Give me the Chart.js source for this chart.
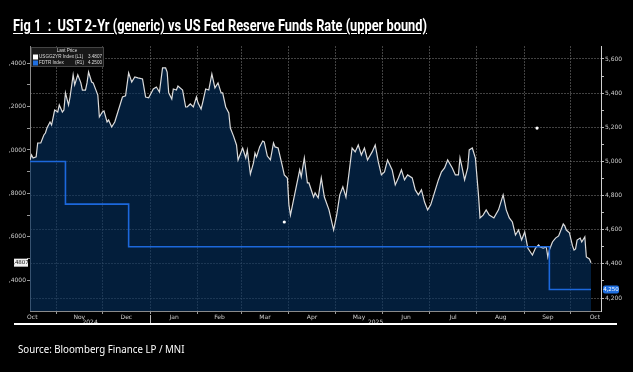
<!DOCTYPE html>
<html>
<head>
<meta charset="utf-8">
<script src="https://cdn.jsdelivr.net/npm/chart.js@4.4.1/dist/chart.umd.min.js"></script>
<style>
html,body{margin:0;padding:0;background:#000;}
body{width:633px;height:372px;position:relative;overflow:hidden;}
#chart{position:absolute;left:0;top:0;}
#title{position:absolute;left:13px;top:16px;color:#fff;font-family:"Roboto","Liberation Sans",sans-serif;font-weight:bold;font-size:16px;text-decoration:underline;text-underline-offset:2px;white-space:nowrap;transform-origin:0 0;}
#rule{position:absolute;left:14px;top:323px;width:603px;height:2px;background:#fff;}
#source{position:absolute;left:18px;top:342px;color:#fff;font-family:"Noto Sans",sans-serif;font-size:10px;white-space:nowrap;transform-origin:0 0;}
</style>
</head>
<body>
<canvas id="chart" width="633" height="372"></canvas>
<div id="title">Fig 1&nbsp; :&nbsp; UST 2-Yr (generic) vs US Fed Reserve Funds Rate (upper bound)</div>
<div id="rule"></div>
<div id="source">Source: Bloomberg Finance LP / MNI</div>
<script>
//=============================
// DATA  (days counted from 2024-10-01)
//=============================

const twoYrDays = [14,15,16,18,19,21,23,24,25,27,28,30,32,33,35,36,37,39,40,42,43,45,47,48,50,51,52,54,55,58,59,61,62,64,65,67,69,71,74,76,78,80,82,84,87,89,91,93,94,96,98,100,102,103,104,106,107,109,110,113,115,116,118,120,122,123,125,126,128,130,132,134,136,138,139,141,143,144,146,148,149,151,152,154,155,157,159,160,161,163,165,166,168,169,170,172,173,175,178,179,181,182,183,185,187,189,190,192,194,195,198,199,201,203,205,208,211,213,215,217,219,221,223,225,227,229,231,233,236,238,240,242,244,246,249,251,253,255,257,259,262,264,266,268,270,272,274,276,279,281,283,285,288,290,292,293,294,296,298,299,301,303,305,306,308,310,312,315,318,319,321,323,325,327,329,331,333,335,337,340,342,344,345,347,349,350,351,353,355,357,358,360,361,362,364,366,367,368,369,371,372,374,375,377,378];

const twoYrVals = [3.954,3.977,3.963,3.968,4.032,4.032,4.069,4.078,4.101,4.129,4.115,4.184,4.175,4.207,4.175,4.184,4.263,4.207,4.244,4.346,4.300,4.346,4.309,4.276,4.276,4.309,4.359,4.313,4.309,4.253,4.152,4.175,4.180,4.129,4.138,4.106,4.129,4.175,4.244,4.249,4.355,4.313,4.336,4.332,4.327,4.244,4.240,4.267,4.281,4.290,4.267,4.378,4.378,4.359,4.263,4.235,4.281,4.276,4.295,4.276,4.198,4.198,4.212,4.198,4.244,4.217,4.189,4.217,4.281,4.276,4.350,4.286,4.309,4.263,4.263,4.198,4.171,4.101,4.065,4.023,3.954,3.991,4.009,3.963,4.000,3.889,3.940,3.986,3.968,4.014,4.041,4.037,3.972,3.963,3.954,4.032,4.014,4.009,3.917,3.885,3.871,3.747,3.700,3.770,3.839,3.908,3.876,3.963,3.848,3.848,3.783,3.802,3.779,3.871,3.783,3.724,3.631,3.700,3.793,3.830,3.783,3.894,4.009,3.991,4.023,3.977,4.009,3.954,3.991,4.023,3.945,3.885,3.899,3.954,3.908,3.839,3.871,3.908,3.862,3.885,3.871,3.816,3.793,3.816,3.760,3.724,3.747,3.793,3.862,3.899,3.917,3.954,3.917,3.885,3.885,3.963,3.931,3.862,3.917,4.000,4.009,3.963,3.793,3.687,3.700,3.724,3.700,3.687,3.724,3.747,3.793,3.724,3.687,3.668,3.608,3.631,3.585,3.622,3.548,3.516,3.548,3.562,3.553,3.548,3.553,3.507,3.539,3.576,3.594,3.604,3.622,3.659,3.650,3.631,3.618,3.558,3.539,3.544,3.585,3.594,3.576,3.599,3.507,3.498,3.4807];

const fedDays = [14,37,78,351,378];
const fedVals = [5.00,4.75,4.50,4.25,4.25];

const dotDays = [179,343];
const dotVals = [3.668,4.101];

const monthStarts = [0,31,61,92,123,151,182,212,243,273,304,335,365,396];
const monthNames = ["Oct","Nov","Dec","Jan","Feb","Mar","Apr","May","Jun","Jul","Aug","Sep","Oct"];
const yearStarts = [0,92];
const yearNames = ["2024","2025"];

const leftTicks = [3.4,3.6,3.8,4.0,4.2,4.4];
const rightTicks = [4.2,4.4,4.6,4.8,5.0,5.2,5.4,5.6];

const legendNames = ["USGG2YR Index","FDTR Index"];
const legendAxes = ["(L1)","(R1)"];

//=============================
// TEXT WIDTHS
//=============================

function fitWidth(id, target){
    const el = document.getElementById(id);
    el.style.transform = "scaleX(" + (target/el.offsetWidth) + ")";
}
fitWidth("title", 414);
fitWidth("source", 167);

//=============================
// HELPERS
//=============================

const GRID = "rgba(120,120,120,0.55)";
const TXT = "#cfcfcf";

function withMinors(list){
    const out = [];
    list.forEach((v,i)=>{
        out.push({value:v, major:true});
        if(i < list.length-1) out.push({value:(v+list[i+1])/2, major:false});
    });
    return out;
}

function leftLabel(v){
    return "," + v.toFixed(4).split(".")[1];
}

function rightLabel(v){
    return v.toFixed(3).replace(".",",");
}

//=============================
// OVERLAY (years, tags, legend)
//=============================

const overlay = {
    id:"overlay",
    afterDraw(chart){
        const {ctx, chartArea, scales} = chart;
        const x = scales.x, yl = scales.yL, yr = scales.yR;
        ctx.save();

        // years
        ctx.font = '6px "DejaVu Sans"';
        ctx.fillStyle = TXT;
        ctx.textAlign = "center";
        ctx.textBaseline = "middle";
        yearStarts.forEach((d,i)=>{
            const a = Math.max(d, x.min);
            const b = Math.min(i < yearStarts.length-1 ? yearStarts[i+1] : x.max, x.max);
            ctx.fillText(yearNames[i], (x.getPixelForValue(a)+x.getPixelForValue(b))/2, chartArea.bottom+11);
            if(i > 0){
                const px = Math.round(x.getPixelForValue(d))+0.5;
                ctx.strokeStyle = "#bbb";
                ctx.lineWidth = 1;
                ctx.beginPath();
                ctx.moveTo(px, chartArea.bottom+4);
                ctx.lineTo(px, chartArea.bottom+13);
                ctx.stroke();
            }
        });

        // last value tag, left
        const lv = twoYrVals[twoYrVals.length-1];
        const ly = yl.getPixelForValue(lv);
        ctx.fillStyle = "#f2f2f2";
        ctx.fillRect(14, ly-4, 14, 8);
        ctx.fillStyle = "#111";
        ctx.font = '5.5px "DejaVu Sans"';
        ctx.textAlign = "center";
        ctx.fillText(leftLabel(lv), 21, ly);

        // last value tag, right
        const rv = fedVals[fedVals.length-1];
        const ry = yr.getPixelForValue(rv);
        ctx.fillStyle = "#1f6fe0";
        ctx.beginPath();
        ctx.roundRect(chartArea.right+2, ry-4, 16, 8, 2);
        ctx.fill();
        ctx.fillStyle = "#fff";
        ctx.fillText(rightLabel(rv), chartArea.right+10, ry);

        // legend box
        const bx = chartArea.left+1, by = chartArea.top+1;
        ctx.fillStyle = "#181818";
        ctx.fillRect(bx, by, 72, 19);
        ctx.strokeStyle = "#444";
        ctx.strokeRect(bx+0.5, by+0.5, 72, 19);
        ctx.font = '4.6px "Liberation Sans"';
        ctx.fillStyle = "#ddd";
        ctx.textAlign = "center";
        ctx.fillText("Last Price", bx+36, by+4);
        const rows = [
            [legendNames[0], legendAxes[0], lv.toFixed(4), "#ffffff"],
            [legendNames[1], legendAxes[1], rv.toFixed(4), "#1f6fe0"]
        ];
        rows.forEach((r,i)=>{
            const yy = by+10+i*6;
            ctx.fillStyle = r[3];
            ctx.fillRect(bx+2, yy-2.5, 5, 5);
            ctx.fillStyle = "#ddd";
            ctx.textAlign = "left";
            ctx.fillText(r[0], bx+8, yy);
            ctx.fillText(r[1], bx+44, yy);
            ctx.textAlign = "right";
            ctx.fillText(r[2], bx+71, yy);
        });

        ctx.restore();
    }
};

//=============================
// CHART
//=============================

new Chart(document.getElementById("chart"),{

type:"line",

data:{
datasets:[
{
    label:"USGG2YR Index",
    data:twoYrDays.map((d,i)=>({x:d, y:twoYrVals[i]})),
    yAxisID:"yL",
    borderColor:"#dcdcdc",
    borderWidth:1.2,
    backgroundColor:"rgba(5,48,96,0.62)",
    fill:"start",
    pointRadius:0,
    tension:0,
    order:3
},
{
    label:"FDTR Index",
    data:fedDays.map((d,i)=>({x:d, y:fedVals[i]})),
    yAxisID:"yR",
    borderColor:"#1c68dc",
    borderWidth:1.6,
    stepped:"before",
    fill:false,
    pointRadius:0,
    order:2
},
{
    label:"marks",
    type:"scatter",
    data:dotDays.map((d,i)=>({x:d, y:dotVals[i]})),
    yAxisID:"yL",
    pointRadius:1.6,
    pointBackgroundColor:"#ffffff",
    pointBorderWidth:0,
    showLine:false,
    order:1
}
]
},

options:{
responsive:false,
animation:false,
events:[],
layout:{padding:{top:46, bottom:47, left:0, right:0}},
plugins:{legend:{display:false}, tooltip:{enabled:false}},
scales:{
x:{
    type:"linear",
    min:14,
    max:384.5,
    afterBuildTicks(scale){
        const t = monthStarts.map(v=>({value:v, major:true, name:""}));
        monthNames.forEach((n,i)=>{
            t.push({value:(monthStarts[i]+monthStarts[i+1])/2, major:false, name:n});
        });
        scale.ticks = t.filter(k=>k.value>=scale.min && k.value<=scale.max)
                       .sort((a,b)=>a.value-b.value);
    },
    afterFit(scale){ scale.height = 14; },
    ticks:{
        autoSkip:false, maxRotation:0, padding:0,
        color:TXT, font:{family:"DejaVu Sans", size:6},
        callback:(v,i,ticks)=>ticks[i].name
    },
    grid:{
        color:c=>c.tick && c.tick.major ? GRID : "rgba(0,0,0,0)",
        tickColor:c=>c.tick && c.tick.major ? "#999" : "rgba(0,0,0,0)",
        tickLength:3,
        lineWidth:1
    },
    border:{display:true, color:"#8a8a8a", dash:[2,1]}
},
yL:{
    type:"linear",
    position:"left",
    min:3.258,
    max:4.479,
    afterBuildTicks(scale){ scale.ticks = withMinors(leftTicks); },
    afterFit(scale){ scale.width = 30; },
    ticks:{
        padding:1, color:TXT, font:{family:"DejaVu Sans", size:6},
        callback:(v,i,ticks)=>ticks[i].major ? leftLabel(v) : ""
    },
    grid:{drawOnChartArea:false, tickLength:3, tickColor:"#999"},
    border:{display:true, color:"#8a8a8a"}
},
yR:{
    type:"linear",
    position:"right",
    min:4.124,
    max:5.676,
    afterBuildTicks(scale){ scale.ticks = withMinors(rightTicks); },
    afterFit(scale){ scale.width = 32; },
    ticks:{
        padding:1, color:TXT, font:{family:"DejaVu Sans", size:6},
        callback:(v,i,ticks)=>ticks[i].major ? rightLabel(v) : ""
    },
    grid:{
        color:c=>c.tick && c.tick.major ? GRID : "rgba(0,0,0,0)",
        tickColor:"#bbb",
        tickLength:3
    },
    border:{display:true, color:"#d0d0d0", dash:[2,1]}
}
}
},

plugins:[overlay]

});
</script>
</body>
</html>
